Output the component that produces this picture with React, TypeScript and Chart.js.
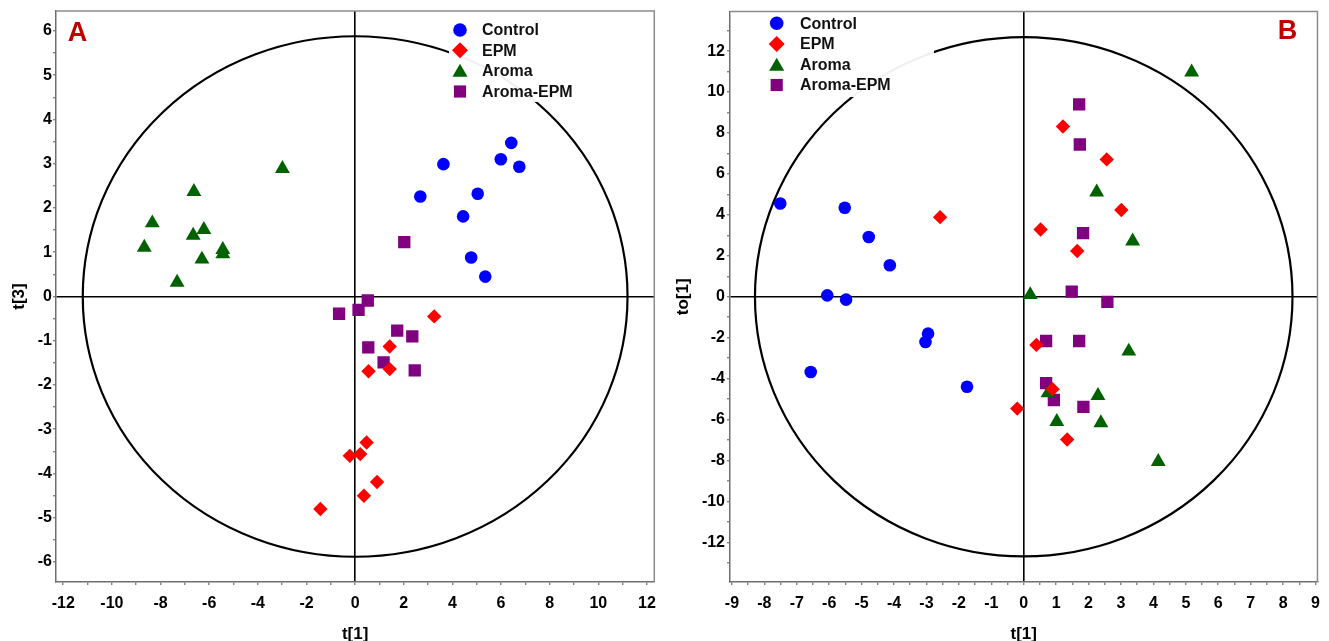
import React, { useEffect, useRef } from 'react';
import { Chart, registerables } from 'chart.js';

Chart.register(...registerables);

type Pt = [number, number];

// ---------- series meta ----------
const SERIES_NAMES = ['Control', 'EPM', 'Aroma', 'Aroma-EPM'];
const SERIES_COLORS = ['#0000FF', '#FF0000', '#006100', '#800080'];
const SERIES_STYLES = ['circle', 'rectRot', 'triangle', 'rect'];

// ---------- Panel A : t[1] vs t[3] ----------
const A_CONTROL: Pt[] = [[6.42, 3.47], [5.99, 3.10], [6.75, 2.93], [3.63, 2.99], [2.68, 2.26], [5.04, 2.32], [4.44, 1.81], [4.77, 0.88], [5.35, 0.45]];
const A_EPM: Pt[] = [[3.25, -0.45], [1.42, -1.13], [0.55, -1.69], [1.42, -1.64], [0.47, -3.30], [-0.22, -3.60], [0.21, -3.56], [0.90, -4.19], [0.36, -4.50], [-1.43, -4.80]];
const A_AROMA: Pt[] = [[-2.99, 2.89], [-6.63, 2.37], [-8.34, 1.66], [-6.22, 1.51], [-6.66, 1.38], [-8.67, 1.11], [-5.44, 1.06], [-5.44, 0.96], [-6.30, 0.84], [-7.32, 0.32]];
const A_AROMA_EPM: Pt[] = [[2.02, 1.23], [0.52, -0.09], [0.14, -0.30], [-0.66, -0.39], [1.73, -0.77], [2.35, -0.90], [0.54, -1.15], [1.17, -1.49], [2.45, -1.67]];
const A_X_LABELS = [-12, -10, -8, -6, -4, -2, 0, 2, 4, 6, 8, 10, 12];
const A_Y_LABELS = [-6, -5, -4, -3, -2, -1, 0, 1, 2, 3, 4, 5, 6];
const A_ELLIPSE = [11.2, 5.88];

// ---------- Panel B : t[1] vs to[1] ----------
const B_CONTROL: Pt[] = [[-7.51, 4.56], [-5.52, 4.35], [-4.78, 2.92], [-4.13, 1.54], [-6.06, 0.07], [-5.48, -0.14], [-2.95, -1.80], [-3.03, -2.21], [-6.57, -3.67], [-1.75, -4.39]];
const B_EPM: Pt[] = [[-2.58, 3.89], [1.21, 8.32], [2.56, 6.71], [3.01, 4.24], [0.52, 3.29], [1.65, 2.24], [0.39, -2.35], [0.89, -4.51], [-0.20, -5.46], [1.34, -6.97]];
const B_AROMA: Pt[] = [[5.18, 10.97], [2.25, 5.11], [3.36, 2.72], [0.20, 0.10], [3.24, -2.66], [2.29, -4.83], [0.75, -4.70], [1.02, -6.10], [2.38, -6.16], [4.15, -8.05]];
const B_AROMA_EPM: Pt[] = [[1.71, 9.40], [1.73, 7.44], [1.83, 3.11], [1.48, 0.25], [2.58, -0.25], [0.69, -2.16], [1.71, -2.16], [0.69, -4.22], [0.93, -5.04], [1.84, -5.38]];
const B_X_LABELS = [-9, -8, -7, -6, -5, -4, -3, -2, -1, 0, 1, 2, 3, 4, 5, 6, 7, 8, 9];
const B_Y_LABELS = [-12, -10, -8, -6, -4, -2, 0, 2, 4, 6, 8, 10, 12];
const B_ELLIPSE = [8.29, 12.68];

const FONT = "'Liberation Sans', Arial, sans-serif";

interface PanelSpec {
  width: number;
  series: Pt[][];
  xRange: [number, number];
  yRange: [number, number];
  xStep: number;
  yStep: number;
  xLabels: number[];
  yLabels: number[];
  xTitle: string;
  yTitle: string;
  ellipse: number[];
  yAxisWidth: number;
  padRight: number;
  yTickPad: number;
  yTitlePad: number;
  legend: { box: [number, number, number, number]; markerX: number; textX: number; rows: number[] };
  tag: { text: string; x: number; y: number };
}

const PANEL_A: PanelSpec = {
  width: 665,
  series: [A_CONTROL, A_EPM, A_AROMA, A_AROMA_EPM],
  xRange: [-12.3, 12.3],
  yRange: [-6.45, 6.45],
  xStep: 1,
  yStep: 0.5,
  xLabels: A_X_LABELS,
  yLabels: A_Y_LABELS,
  xTitle: 't[1]',
  yTitle: 't[3]',
  ellipse: A_ELLIPSE,
  yAxisWidth: 56,
  padRight: 9,
  yTickPad: 1,
  yTitlePad: 11,
  legend: { box: [449, 14, 595, 102], markerX: 460, textX: 482, rows: [30, 50.3, 71, 91.5] },
  tag: { text: 'A', x: 77.5, y: 34 },
};

const PANEL_B: PanelSpec = {
  width: 664,
  series: [B_CONTROL, B_EPM, B_AROMA, B_AROMA_EPM],
  xRange: [-9.06, 9.06],
  yRange: [-13.93, 13.93],
  xStep: 0.5,
  yStep: 1,
  xLabels: B_X_LABELS,
  yLabels: B_Y_LABELS,
  xTitle: 't[1]',
  yTitle: 'to[1]',
  ellipse: B_ELLIPSE,
  yAxisWidth: 65,
  padRight: 11,
  yTickPad: 2,
  yTitlePad: 9.5,
  legend: { box: [100, 12, 269, 97], markerX: 111.7, textX: 135, rows: [23.3, 44, 65, 85] },
  tag: { text: 'B', x: 622.5, y: 32 },
};

const POINT_RADII = [6.3, 7.2, 8.6, 8.7];
const LEGEND_RADII = [6.8, 8, 8.7, 8.6];

function drawMarker(ctx: CanvasRenderingContext2D, style: string, x: number, y: number, r: number, color: string) {
  ctx.save();
  ctx.fillStyle = color;
  ctx.beginPath();
  if (style === 'circle') {
    ctx.arc(x, y, r, 0, Math.PI * 2);
  } else if (style === 'rectRot') {
    ctx.moveTo(x - r, y);
    ctx.lineTo(x, y - r);
    ctx.lineTo(x + r, y);
    ctx.lineTo(x, y + r);
    ctx.closePath();
  } else if (style === 'triangle') {
    ctx.moveTo(x, y - r);
    ctx.lineTo(x + 0.866 * r, y + 0.5 * r);
    ctx.lineTo(x - 0.866 * r, y + 0.5 * r);
    ctx.closePath();
  } else {
    const s = r * Math.SQRT1_2;
    ctx.rect(x - s, y - s, 2 * s, 2 * s);
  }
  ctx.fill();
  ctx.restore();
}

function makeChart(canvas: HTMLCanvasElement, p: PanelSpec) {
  const datasets = p.series.map((pts, i) => ({
    label: SERIES_NAMES[i],
    data: pts.map(([x, y]) => ({ x, y })),
    pointStyle: SERIES_STYLES[i] as any,
    pointRadius: POINT_RADII[i],
    pointHoverRadius: POINT_RADII[i],
    backgroundColor: SERIES_COLORS[i],
    borderColor: SERIES_COLORS[i],
    borderWidth: 0,
    showLine: false,
  }));

  const decor = {
    id: 'decor',
    beforeDatasetsDraw(chart: any) {
      const ctx = chart.ctx as CanvasRenderingContext2D;
      const xs = chart.scales.x, ys = chart.scales.y;
      const cx = xs.getPixelForValue(0), cy = ys.getPixelForValue(0);
      const rx = Math.abs(xs.getPixelForValue(p.ellipse[0]) - cx);
      const ry = Math.abs(ys.getPixelForValue(p.ellipse[1]) - cy);
      ctx.save();
      ctx.beginPath();
      ctx.ellipse(cx, cy, rx, ry, 0, 0, Math.PI * 2);
      ctx.lineWidth = 2.2;
      ctx.strokeStyle = '#000';
      ctx.stroke();
      ctx.restore();
    },
    afterDatasetsDraw(chart: any) {
      const ctx = chart.ctx as CanvasRenderingContext2D;
      const ca = chart.chartArea;
      // legend
      const [l, t, r, b] = p.legend.box;
      ctx.save();
      ctx.fillStyle = 'rgba(255,255,255,0.94)';
      ctx.fillRect(l, t, r - l, b - t);
      ctx.font = `bold 16px ${FONT}`;
      ctx.textBaseline = 'middle';
      ctx.textAlign = 'left';
      SERIES_NAMES.forEach((name, i) => {
        const y = p.legend.rows[i];
        drawMarker(ctx, SERIES_STYLES[i], p.legend.markerX, y + (SERIES_STYLES[i] === 'triangle' ? 1.5 : 0), LEGEND_RADII[i], SERIES_COLORS[i]);
        ctx.fillStyle = '#111';
        ctx.fillText(name, p.legend.textX, y + 1);
      });
      // panel tag
      ctx.font = `bold 27px ${FONT}`;
      ctx.fillStyle = '#C00000';
      ctx.textAlign = 'center';
      ctx.fillText(p.tag.text, p.tag.x, p.tag.y);
      // top / right frame
      ctx.strokeStyle = '#8c8c8c';
      ctx.lineWidth = 1.5;
      ctx.beginPath();
      ctx.moveTo(ca.left, ca.top);
      ctx.lineTo(ca.right, ca.top);
      ctx.lineTo(ca.right, ca.bottom);
      ctx.stroke();
      ctx.restore();
    },
  };

  const tickFont = { family: FONT, size: 16, weight: 'bold' as const };
  const titleFont = { family: FONT, size: 17, weight: 'bold' as const, lineHeight: 1 };
  const zeroColor = (c: any) => (c.tick && c.tick.value === 0 ? '#000' : 'rgba(0,0,0,0)');

  return new Chart(canvas, {
    type: 'scatter',
    data: { datasets },
    plugins: [decor],
    options: {
      responsive: false,
      animation: false,
      devicePixelRatio: 1,
      events: [],
      layout: { padding: { left: 0, right: p.padRight, top: 11, bottom: 0 } },
      plugins: { legend: { display: false }, tooltip: { enabled: false } },
      scales: {
        x: {
          type: 'linear',
          min: p.xRange[0],
          max: p.xRange[1],
          afterFit: (s: any) => { s.height = 59; },
          ticks: {
            stepSize: p.xStep,
            includeBounds: false,
            autoSkip: false,
            maxRotation: 0,
            padding: 9,
            color: '#000',
            font: tickFont,
            callback: (v: any) => (p.xLabels.includes(Number(v)) ? String(v) : ''),
          },
          grid: { color: zeroColor, lineWidth: 1.6, drawTicks: true, tickLength: 3, tickColor: '#555', tickWidth: 1 },
          border: { display: true, color: '#6e6e6e', width: 1.5 },
          title: { display: true, text: p.xTitle, color: '#000', font: titleFont, padding: { top: 0, bottom: -1.5 } },
        },
        y: {
          type: 'linear',
          min: p.yRange[0],
          max: p.yRange[1],
          afterFit: (s: any) => { s.width = p.yAxisWidth; },
          ticks: {
            stepSize: p.yStep,
            includeBounds: false,
            autoSkip: false,
            padding: p.yTickPad,
            color: '#000',
            font: tickFont,
            callback: (v: any) => (p.yLabels.includes(Number(v)) ? String(v) : ''),
          },
          grid: { color: zeroColor, lineWidth: 1.6, drawTicks: true, tickLength: 3, tickColor: '#555', tickWidth: 1 },
          border: { display: true, color: '#6e6e6e', width: 1.5 },
          title: { display: true, text: p.yTitle, color: '#000', font: titleFont, padding: { top: p.yTitlePad, bottom: 0 } },
        },
      },
    } as any,
  });
}

function Panel({ spec, left }: { spec: PanelSpec; left: number }) {
  const ref = useRef<HTMLCanvasElement | null>(null);
  useEffect(() => {
    if (!ref.current) return;
    const chart = makeChart(ref.current, spec);
    return () => chart.destroy();
  }, [spec]);
  return (
    <div style={{ position: 'absolute', left, top: 0, width: spec.width, height: 641 }}>
      <canvas ref={ref} width={spec.width} height={641} style={{ display: 'block', width: spec.width, height: 641 }} />
    </div>
  );
}

export default function App() {
  return (
    <div style={{ position: 'fixed', left: 0, top: 0, width: 1329, height: 641, background: '#fff', overflow: 'hidden' }}>
      <Panel spec={PANEL_A} left={0} />
      <Panel spec={PANEL_B} left={665} />
    </div>
  );
}
